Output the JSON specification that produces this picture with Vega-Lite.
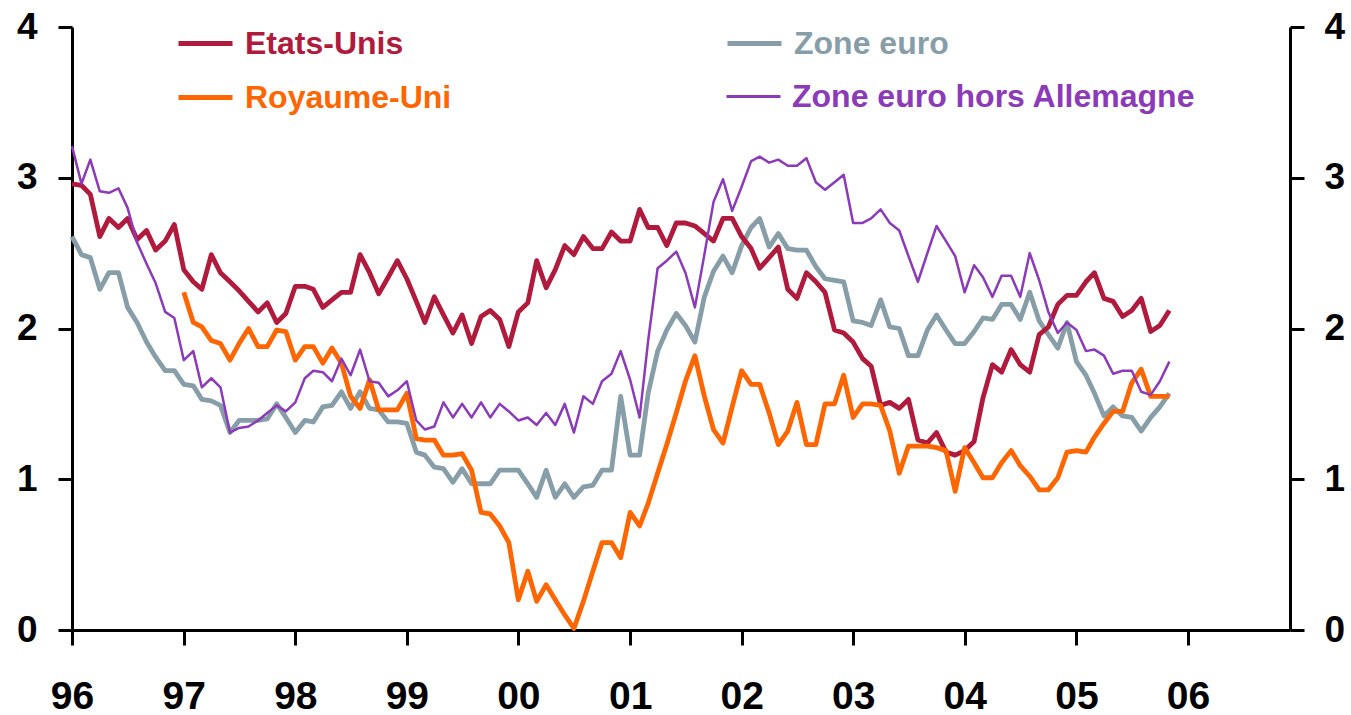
{
  "$schema": "https://vega.github.io/schema/vega-lite/v6.json",
  "width": 1218,
  "height": 603,
  "autosize": "none",
  "padding": {"left": 72, "top": 27, "right": 61, "bottom": 85},
  "background": "white",
  "config": {
    "view": {"stroke": null},
    "font": "Liberation Sans",
    "axis": {"grid": false, "title": null, "domainColor": "black", "tickColor": "black", "labelColor": "black", "labelFont": "Liberation Sans", "labelFontWeight": "bold"},
    "legend": {"padding": 0, "title": null, "orient": "none", "symbolType": "stroke", "symbolSize": 2916, "labelFont": "Liberation Sans", "labelFontWeight": "bold", "labelFontSize": 32, "labelOffset": 10, "labelLimit": 800}
  },
  "data": {"values": [
    {"d":"1996-01","s":"Etats-Unis","v":2.96},{"d":"1996-02","s":"Etats-Unis","v":2.95},{"d":"1996-03","s":"Etats-Unis","v":2.89},{"d":"1996-04","s":"Etats-Unis","v":2.61},{"d":"1996-05","s":"Etats-Unis","v":2.73},{"d":"1996-06","s":"Etats-Unis","v":2.67},{"d":"1996-07","s":"Etats-Unis","v":2.73},{"d":"1996-08","s":"Etats-Unis","v":2.59},{"d":"1996-09","s":"Etats-Unis","v":2.65},{"d":"1996-10","s":"Etats-Unis","v":2.52},{"d":"1996-11","s":"Etats-Unis","v":2.58},{"d":"1996-12","s":"Etats-Unis","v":2.69},
    {"d":"1997-01","s":"Etats-Unis","v":2.39},{"d":"1997-02","s":"Etats-Unis","v":2.31},{"d":"1997-03","s":"Etats-Unis","v":2.26},{"d":"1997-04","s":"Etats-Unis","v":2.49},{"d":"1997-05","s":"Etats-Unis","v":2.37},{"d":"1997-06","s":"Etats-Unis","v":2.31},{"d":"1997-07","s":"Etats-Unis","v":2.25},{"d":"1997-08","s":"Etats-Unis","v":2.18},{"d":"1997-09","s":"Etats-Unis","v":2.11},{"d":"1997-10","s":"Etats-Unis","v":2.17},{"d":"1997-11","s":"Etats-Unis","v":2.04},{"d":"1997-12","s":"Etats-Unis","v":2.10},
    {"d":"1998-01","s":"Etats-Unis","v":2.28},{"d":"1998-02","s":"Etats-Unis","v":2.28},{"d":"1998-03","s":"Etats-Unis","v":2.26},{"d":"1998-04","s":"Etats-Unis","v":2.14},{"d":"1998-05","s":"Etats-Unis","v":2.19},{"d":"1998-06","s":"Etats-Unis","v":2.24},{"d":"1998-07","s":"Etats-Unis","v":2.24},{"d":"1998-08","s":"Etats-Unis","v":2.49},{"d":"1998-09","s":"Etats-Unis","v":2.37},{"d":"1998-10","s":"Etats-Unis","v":2.23},{"d":"1998-11","s":"Etats-Unis","v":2.34},{"d":"1998-12","s":"Etats-Unis","v":2.45},
    {"d":"1999-01","s":"Etats-Unis","v":2.33},{"d":"1999-02","s":"Etats-Unis","v":2.18},{"d":"1999-03","s":"Etats-Unis","v":2.04},{"d":"1999-04","s":"Etats-Unis","v":2.21},{"d":"1999-05","s":"Etats-Unis","v":2.09},{"d":"1999-06","s":"Etats-Unis","v":1.97},{"d":"1999-07","s":"Etats-Unis","v":2.09},{"d":"1999-08","s":"Etats-Unis","v":1.90},{"d":"1999-09","s":"Etats-Unis","v":2.08},{"d":"1999-10","s":"Etats-Unis","v":2.12},{"d":"1999-11","s":"Etats-Unis","v":2.06},{"d":"1999-12","s":"Etats-Unis","v":1.88},
    {"d":"2000-01","s":"Etats-Unis","v":2.11},{"d":"2000-02","s":"Etats-Unis","v":2.17},{"d":"2000-03","s":"Etats-Unis","v":2.45},{"d":"2000-04","s":"Etats-Unis","v":2.27},{"d":"2000-05","s":"Etats-Unis","v":2.39},{"d":"2000-06","s":"Etats-Unis","v":2.55},{"d":"2000-07","s":"Etats-Unis","v":2.49},{"d":"2000-08","s":"Etats-Unis","v":2.61},{"d":"2000-09","s":"Etats-Unis","v":2.53},{"d":"2000-10","s":"Etats-Unis","v":2.53},{"d":"2000-11","s":"Etats-Unis","v":2.64},{"d":"2000-12","s":"Etats-Unis","v":2.58},
    {"d":"2001-01","s":"Etats-Unis","v":2.58},{"d":"2001-02","s":"Etats-Unis","v":2.79},{"d":"2001-03","s":"Etats-Unis","v":2.67},{"d":"2001-04","s":"Etats-Unis","v":2.67},{"d":"2001-05","s":"Etats-Unis","v":2.55},{"d":"2001-06","s":"Etats-Unis","v":2.70},{"d":"2001-07","s":"Etats-Unis","v":2.70},{"d":"2001-08","s":"Etats-Unis","v":2.68},{"d":"2001-09","s":"Etats-Unis","v":2.63},{"d":"2001-10","s":"Etats-Unis","v":2.58},{"d":"2001-11","s":"Etats-Unis","v":2.73},{"d":"2001-12","s":"Etats-Unis","v":2.73},
    {"d":"2002-01","s":"Etats-Unis","v":2.61},{"d":"2002-02","s":"Etats-Unis","v":2.53},{"d":"2002-03","s":"Etats-Unis","v":2.40},{"d":"2002-04","s":"Etats-Unis","v":2.47},{"d":"2002-05","s":"Etats-Unis","v":2.54},{"d":"2002-06","s":"Etats-Unis","v":2.26},{"d":"2002-07","s":"Etats-Unis","v":2.20},{"d":"2002-08","s":"Etats-Unis","v":2.37},{"d":"2002-09","s":"Etats-Unis","v":2.31},{"d":"2002-10","s":"Etats-Unis","v":2.24},{"d":"2002-11","s":"Etats-Unis","v":1.99},{"d":"2002-12","s":"Etats-Unis","v":1.97},
    {"d":"2003-01","s":"Etats-Unis","v":1.91},{"d":"2003-02","s":"Etats-Unis","v":1.80},{"d":"2003-03","s":"Etats-Unis","v":1.75},{"d":"2003-04","s":"Etats-Unis","v":1.49},{"d":"2003-05","s":"Etats-Unis","v":1.51},{"d":"2003-06","s":"Etats-Unis","v":1.47},{"d":"2003-07","s":"Etats-Unis","v":1.53},{"d":"2003-08","s":"Etats-Unis","v":1.26},{"d":"2003-09","s":"Etats-Unis","v":1.24},{"d":"2003-10","s":"Etats-Unis","v":1.31},{"d":"2003-11","s":"Etats-Unis","v":1.18},{"d":"2003-12","s":"Etats-Unis","v":1.16},
    {"d":"2004-01","s":"Etats-Unis","v":1.19},{"d":"2004-02","s":"Etats-Unis","v":1.25},{"d":"2004-03","s":"Etats-Unis","v":1.54},{"d":"2004-04","s":"Etats-Unis","v":1.76},{"d":"2004-05","s":"Etats-Unis","v":1.71},{"d":"2004-06","s":"Etats-Unis","v":1.86},{"d":"2004-07","s":"Etats-Unis","v":1.76},{"d":"2004-08","s":"Etats-Unis","v":1.71},{"d":"2004-09","s":"Etats-Unis","v":1.96},{"d":"2004-10","s":"Etats-Unis","v":2.01},{"d":"2004-11","s":"Etats-Unis","v":2.16},{"d":"2004-12","s":"Etats-Unis","v":2.22},
    {"d":"2005-01","s":"Etats-Unis","v":2.22},{"d":"2005-02","s":"Etats-Unis","v":2.31},{"d":"2005-03","s":"Etats-Unis","v":2.37},{"d":"2005-04","s":"Etats-Unis","v":2.20},{"d":"2005-05","s":"Etats-Unis","v":2.18},{"d":"2005-06","s":"Etats-Unis","v":2.08},{"d":"2005-07","s":"Etats-Unis","v":2.12},{"d":"2005-08","s":"Etats-Unis","v":2.20},{"d":"2005-09","s":"Etats-Unis","v":1.98},{"d":"2005-10","s":"Etats-Unis","v":2.02},{"d":"2005-11","s":"Etats-Unis","v":2.12},

    {"d":"1996-01","s":"Zone euro","v":2.61},{"d":"1996-02","s":"Zone euro","v":2.49},{"d":"1996-03","s":"Zone euro","v":2.47},{"d":"1996-04","s":"Zone euro","v":2.26},{"d":"1996-05","s":"Zone euro","v":2.37},{"d":"1996-06","s":"Zone euro","v":2.37},{"d":"1996-07","s":"Zone euro","v":2.14},{"d":"1996-08","s":"Zone euro","v":2.04},{"d":"1996-09","s":"Zone euro","v":1.91},{"d":"1996-10","s":"Zone euro","v":1.81},{"d":"1996-11","s":"Zone euro","v":1.72},{"d":"1996-12","s":"Zone euro","v":1.72},
    {"d":"1997-01","s":"Zone euro","v":1.63},{"d":"1997-02","s":"Zone euro","v":1.62},{"d":"1997-03","s":"Zone euro","v":1.53},{"d":"1997-04","s":"Zone euro","v":1.52},{"d":"1997-05","s":"Zone euro","v":1.49},{"d":"1997-06","s":"Zone euro","v":1.31},{"d":"1997-07","s":"Zone euro","v":1.39},{"d":"1997-08","s":"Zone euro","v":1.39},{"d":"1997-09","s":"Zone euro","v":1.39},{"d":"1997-10","s":"Zone euro","v":1.40},{"d":"1997-11","s":"Zone euro","v":1.50},{"d":"1997-12","s":"Zone euro","v":1.41},
    {"d":"1998-01","s":"Zone euro","v":1.31},{"d":"1998-02","s":"Zone euro","v":1.39},{"d":"1998-03","s":"Zone euro","v":1.38},{"d":"1998-04","s":"Zone euro","v":1.48},{"d":"1998-05","s":"Zone euro","v":1.49},{"d":"1998-06","s":"Zone euro","v":1.58},{"d":"1998-07","s":"Zone euro","v":1.47},{"d":"1998-08","s":"Zone euro","v":1.58},{"d":"1998-09","s":"Zone euro","v":1.47},{"d":"1998-10","s":"Zone euro","v":1.46},{"d":"1998-11","s":"Zone euro","v":1.38},{"d":"1998-12","s":"Zone euro","v":1.38},
    {"d":"1999-01","s":"Zone euro","v":1.37},{"d":"1999-02","s":"Zone euro","v":1.18},{"d":"1999-03","s":"Zone euro","v":1.16},{"d":"1999-04","s":"Zone euro","v":1.08},{"d":"1999-05","s":"Zone euro","v":1.07},{"d":"1999-06","s":"Zone euro","v":0.98},{"d":"1999-07","s":"Zone euro","v":1.07},{"d":"1999-08","s":"Zone euro","v":0.97},{"d":"1999-09","s":"Zone euro","v":0.97},{"d":"1999-10","s":"Zone euro","v":0.97},{"d":"1999-11","s":"Zone euro","v":1.06},{"d":"1999-12","s":"Zone euro","v":1.06},
    {"d":"2000-01","s":"Zone euro","v":1.06},{"d":"2000-02","s":"Zone euro","v":0.97},{"d":"2000-03","s":"Zone euro","v":0.88},{"d":"2000-04","s":"Zone euro","v":1.06},{"d":"2000-05","s":"Zone euro","v":0.88},{"d":"2000-06","s":"Zone euro","v":0.97},{"d":"2000-07","s":"Zone euro","v":0.88},{"d":"2000-08","s":"Zone euro","v":0.95},{"d":"2000-09","s":"Zone euro","v":0.96},{"d":"2000-10","s":"Zone euro","v":1.06},{"d":"2000-11","s":"Zone euro","v":1.06},{"d":"2000-12","s":"Zone euro","v":1.55},
    {"d":"2001-01","s":"Zone euro","v":1.16},{"d":"2001-02","s":"Zone euro","v":1.16},{"d":"2001-03","s":"Zone euro","v":1.57},{"d":"2001-04","s":"Zone euro","v":1.85},{"d":"2001-05","s":"Zone euro","v":1.99},{"d":"2001-06","s":"Zone euro","v":2.10},{"d":"2001-07","s":"Zone euro","v":2.02},{"d":"2001-08","s":"Zone euro","v":1.91},{"d":"2001-09","s":"Zone euro","v":2.21},{"d":"2001-10","s":"Zone euro","v":2.38},{"d":"2001-11","s":"Zone euro","v":2.48},{"d":"2001-12","s":"Zone euro","v":2.37},
    {"d":"2002-01","s":"Zone euro","v":2.55},{"d":"2002-02","s":"Zone euro","v":2.67},{"d":"2002-03","s":"Zone euro","v":2.73},{"d":"2002-04","s":"Zone euro","v":2.54},{"d":"2002-05","s":"Zone euro","v":2.63},{"d":"2002-06","s":"Zone euro","v":2.53},{"d":"2002-07","s":"Zone euro","v":2.52},{"d":"2002-08","s":"Zone euro","v":2.52},{"d":"2002-09","s":"Zone euro","v":2.41},{"d":"2002-10","s":"Zone euro","v":2.33},{"d":"2002-11","s":"Zone euro","v":2.32},{"d":"2002-12","s":"Zone euro","v":2.31},
    {"d":"2003-01","s":"Zone euro","v":2.05},{"d":"2003-02","s":"Zone euro","v":2.04},{"d":"2003-03","s":"Zone euro","v":2.02},{"d":"2003-04","s":"Zone euro","v":2.19},{"d":"2003-05","s":"Zone euro","v":2.01},{"d":"2003-06","s":"Zone euro","v":2.00},{"d":"2003-07","s":"Zone euro","v":1.82},{"d":"2003-08","s":"Zone euro","v":1.82},{"d":"2003-09","s":"Zone euro","v":1.99},{"d":"2003-10","s":"Zone euro","v":2.09},{"d":"2003-11","s":"Zone euro","v":1.99},{"d":"2003-12","s":"Zone euro","v":1.90},
    {"d":"2004-01","s":"Zone euro","v":1.90},{"d":"2004-02","s":"Zone euro","v":1.98},{"d":"2004-03","s":"Zone euro","v":2.07},{"d":"2004-04","s":"Zone euro","v":2.06},{"d":"2004-05","s":"Zone euro","v":2.16},{"d":"2004-06","s":"Zone euro","v":2.16},{"d":"2004-07","s":"Zone euro","v":2.06},{"d":"2004-08","s":"Zone euro","v":2.24},{"d":"2004-09","s":"Zone euro","v":2.05},{"d":"2004-10","s":"Zone euro","v":1.96},{"d":"2004-11","s":"Zone euro","v":1.87},{"d":"2004-12","s":"Zone euro","v":2.04},
    {"d":"2005-01","s":"Zone euro","v":1.78},{"d":"2005-02","s":"Zone euro","v":1.69},{"d":"2005-03","s":"Zone euro","v":1.57},{"d":"2005-04","s":"Zone euro","v":1.42},{"d":"2005-05","s":"Zone euro","v":1.48},{"d":"2005-06","s":"Zone euro","v":1.42},{"d":"2005-07","s":"Zone euro","v":1.41},{"d":"2005-08","s":"Zone euro","v":1.32},{"d":"2005-09","s":"Zone euro","v":1.41},{"d":"2005-10","s":"Zone euro","v":1.48},{"d":"2005-11","s":"Zone euro","v":1.57},

    {"d":"1997-01","s":"Royaume-Uni","v":2.24},{"d":"1997-02","s":"Royaume-Uni","v":2.04},{"d":"1997-03","s":"Royaume-Uni","v":2.01},{"d":"1997-04","s":"Royaume-Uni","v":1.92},{"d":"1997-05","s":"Royaume-Uni","v":1.90},{"d":"1997-06","s":"Royaume-Uni","v":1.79},{"d":"1997-07","s":"Royaume-Uni","v":1.90},{"d":"1997-08","s":"Royaume-Uni","v":2.00},{"d":"1997-09","s":"Royaume-Uni","v":1.88},{"d":"1997-10","s":"Royaume-Uni","v":1.88},{"d":"1997-11","s":"Royaume-Uni","v":1.99},{"d":"1997-12","s":"Royaume-Uni","v":1.98},
    {"d":"1998-01","s":"Royaume-Uni","v":1.79},{"d":"1998-02","s":"Royaume-Uni","v":1.88},{"d":"1998-03","s":"Royaume-Uni","v":1.88},{"d":"1998-04","s":"Royaume-Uni","v":1.77},{"d":"1998-05","s":"Royaume-Uni","v":1.87},{"d":"1998-06","s":"Royaume-Uni","v":1.77},{"d":"1998-07","s":"Royaume-Uni","v":1.55},{"d":"1998-08","s":"Royaume-Uni","v":1.47},{"d":"1998-09","s":"Royaume-Uni","v":1.66},{"d":"1998-10","s":"Royaume-Uni","v":1.46},{"d":"1998-11","s":"Royaume-Uni","v":1.46},{"d":"1998-12","s":"Royaume-Uni","v":1.46},
    {"d":"1999-01","s":"Royaume-Uni","v":1.57},{"d":"1999-02","s":"Royaume-Uni","v":1.27},{"d":"1999-03","s":"Royaume-Uni","v":1.26},{"d":"1999-04","s":"Royaume-Uni","v":1.26},{"d":"1999-05","s":"Royaume-Uni","v":1.16},{"d":"1999-06","s":"Royaume-Uni","v":1.16},{"d":"1999-07","s":"Royaume-Uni","v":1.17},{"d":"1999-08","s":"Royaume-Uni","v":1.06},{"d":"1999-09","s":"Royaume-Uni","v":0.78},{"d":"1999-10","s":"Royaume-Uni","v":0.77},{"d":"1999-11","s":"Royaume-Uni","v":0.69},{"d":"1999-12","s":"Royaume-Uni","v":0.58},
    {"d":"2000-01","s":"Royaume-Uni","v":0.20},{"d":"2000-02","s":"Royaume-Uni","v":0.39},{"d":"2000-03","s":"Royaume-Uni","v":0.19},{"d":"2000-04","s":"Royaume-Uni","v":0.30},{"d":"2000-05","s":"Royaume-Uni","v":0.20},{"d":"2000-06","s":"Royaume-Uni","v":0.10},{"d":"2000-07","s":"Royaume-Uni","v":0.01},{"d":"2000-08","s":"Royaume-Uni","v":0.19},{"d":"2000-09","s":"Royaume-Uni","v":0.39},{"d":"2000-10","s":"Royaume-Uni","v":0.58},{"d":"2000-11","s":"Royaume-Uni","v":0.58},{"d":"2000-12","s":"Royaume-Uni","v":0.48},
    {"d":"2001-01","s":"Royaume-Uni","v":0.78},{"d":"2001-02","s":"Royaume-Uni","v":0.69},{"d":"2001-03","s":"Royaume-Uni","v":0.84},{"d":"2001-04","s":"Royaume-Uni","v":1.04},{"d":"2001-05","s":"Royaume-Uni","v":1.23},{"d":"2001-06","s":"Royaume-Uni","v":1.44},{"d":"2001-07","s":"Royaume-Uni","v":1.65},{"d":"2001-08","s":"Royaume-Uni","v":1.82},{"d":"2001-09","s":"Royaume-Uni","v":1.55},{"d":"2001-10","s":"Royaume-Uni","v":1.33},{"d":"2001-11","s":"Royaume-Uni","v":1.24},{"d":"2001-12","s":"Royaume-Uni","v":1.48},
    {"d":"2002-01","s":"Royaume-Uni","v":1.72},{"d":"2002-02","s":"Royaume-Uni","v":1.63},{"d":"2002-03","s":"Royaume-Uni","v":1.63},{"d":"2002-04","s":"Royaume-Uni","v":1.44},{"d":"2002-05","s":"Royaume-Uni","v":1.23},{"d":"2002-06","s":"Royaume-Uni","v":1.32},{"d":"2002-07","s":"Royaume-Uni","v":1.51},{"d":"2002-08","s":"Royaume-Uni","v":1.23},{"d":"2002-09","s":"Royaume-Uni","v":1.23},{"d":"2002-10","s":"Royaume-Uni","v":1.50},{"d":"2002-11","s":"Royaume-Uni","v":1.50},{"d":"2002-12","s":"Royaume-Uni","v":1.69},
    {"d":"2003-01","s":"Royaume-Uni","v":1.41},{"d":"2003-02","s":"Royaume-Uni","v":1.50},{"d":"2003-03","s":"Royaume-Uni","v":1.50},{"d":"2003-04","s":"Royaume-Uni","v":1.49},{"d":"2003-05","s":"Royaume-Uni","v":1.32},{"d":"2003-06","s":"Royaume-Uni","v":1.04},{"d":"2003-07","s":"Royaume-Uni","v":1.22},{"d":"2003-08","s":"Royaume-Uni","v":1.22},{"d":"2003-09","s":"Royaume-Uni","v":1.22},{"d":"2003-10","s":"Royaume-Uni","v":1.21},{"d":"2003-11","s":"Royaume-Uni","v":1.19},{"d":"2003-12","s":"Royaume-Uni","v":0.92},
    {"d":"2004-01","s":"Royaume-Uni","v":1.21},{"d":"2004-02","s":"Royaume-Uni","v":1.11},{"d":"2004-03","s":"Royaume-Uni","v":1.01},{"d":"2004-04","s":"Royaume-Uni","v":1.01},{"d":"2004-05","s":"Royaume-Uni","v":1.11},{"d":"2004-06","s":"Royaume-Uni","v":1.19},{"d":"2004-07","s":"Royaume-Uni","v":1.09},{"d":"2004-08","s":"Royaume-Uni","v":1.02},{"d":"2004-09","s":"Royaume-Uni","v":0.93},{"d":"2004-10","s":"Royaume-Uni","v":0.93},{"d":"2004-11","s":"Royaume-Uni","v":1.01},{"d":"2004-12","s":"Royaume-Uni","v":1.18},
    {"d":"2005-01","s":"Royaume-Uni","v":1.19},{"d":"2005-02","s":"Royaume-Uni","v":1.18},{"d":"2005-03","s":"Royaume-Uni","v":1.28},{"d":"2005-04","s":"Royaume-Uni","v":1.37},{"d":"2005-05","s":"Royaume-Uni","v":1.45},{"d":"2005-06","s":"Royaume-Uni","v":1.45},{"d":"2005-07","s":"Royaume-Uni","v":1.64},{"d":"2005-08","s":"Royaume-Uni","v":1.73},{"d":"2005-09","s":"Royaume-Uni","v":1.55},{"d":"2005-10","s":"Royaume-Uni","v":1.55},{"d":"2005-11","s":"Royaume-Uni","v":1.55},

    {"d":"1996-01","s":"Zone euro hors Allemagne","v":3.21},{"d":"1996-02","s":"Zone euro hors Allemagne","v":2.96},{"d":"1996-03","s":"Zone euro hors Allemagne","v":3.12},{"d":"1996-04","s":"Zone euro hors Allemagne","v":2.91},{"d":"1996-05","s":"Zone euro hors Allemagne","v":2.90},{"d":"1996-06","s":"Zone euro hors Allemagne","v":2.93},{"d":"1996-07","s":"Zone euro hors Allemagne","v":2.80},{"d":"1996-08","s":"Zone euro hors Allemagne","v":2.57},{"d":"1996-09","s":"Zone euro hors Allemagne","v":2.43},{"d":"1996-10","s":"Zone euro hors Allemagne","v":2.30},{"d":"1996-11","s":"Zone euro hors Allemagne","v":2.11},{"d":"1996-12","s":"Zone euro hors Allemagne","v":2.07},
    {"d":"1997-01","s":"Zone euro hors Allemagne","v":1.79},{"d":"1997-02","s":"Zone euro hors Allemagne","v":1.85},{"d":"1997-03","s":"Zone euro hors Allemagne","v":1.61},{"d":"1997-04","s":"Zone euro hors Allemagne","v":1.67},{"d":"1997-05","s":"Zone euro hors Allemagne","v":1.61},{"d":"1997-06","s":"Zone euro hors Allemagne","v":1.31},{"d":"1997-07","s":"Zone euro hors Allemagne","v":1.34},{"d":"1997-08","s":"Zone euro hors Allemagne","v":1.35},{"d":"1997-09","s":"Zone euro hors Allemagne","v":1.39},{"d":"1997-10","s":"Zone euro hors Allemagne","v":1.44},{"d":"1997-11","s":"Zone euro hors Allemagne","v":1.49},{"d":"1997-12","s":"Zone euro hors Allemagne","v":1.45},
    {"d":"1998-01","s":"Zone euro hors Allemagne","v":1.51},{"d":"1998-02","s":"Zone euro hors Allemagne","v":1.67},{"d":"1998-03","s":"Zone euro hors Allemagne","v":1.72},{"d":"1998-04","s":"Zone euro hors Allemagne","v":1.71},{"d":"1998-05","s":"Zone euro hors Allemagne","v":1.65},{"d":"1998-06","s":"Zone euro hors Allemagne","v":1.80},{"d":"1998-07","s":"Zone euro hors Allemagne","v":1.69},{"d":"1998-08","s":"Zone euro hors Allemagne","v":1.86},{"d":"1998-09","s":"Zone euro hors Allemagne","v":1.65},{"d":"1998-10","s":"Zone euro hors Allemagne","v":1.64},{"d":"1998-11","s":"Zone euro hors Allemagne","v":1.55},{"d":"1998-12","s":"Zone euro hors Allemagne","v":1.59},
    {"d":"1999-01","s":"Zone euro hors Allemagne","v":1.65},{"d":"1999-02","s":"Zone euro hors Allemagne","v":1.39},{"d":"1999-03","s":"Zone euro hors Allemagne","v":1.33},{"d":"1999-04","s":"Zone euro hors Allemagne","v":1.35},{"d":"1999-05","s":"Zone euro hors Allemagne","v":1.51},{"d":"1999-06","s":"Zone euro hors Allemagne","v":1.41},{"d":"1999-07","s":"Zone euro hors Allemagne","v":1.50},{"d":"1999-08","s":"Zone euro hors Allemagne","v":1.41},{"d":"1999-09","s":"Zone euro hors Allemagne","v":1.51},{"d":"1999-10","s":"Zone euro hors Allemagne","v":1.41},{"d":"1999-11","s":"Zone euro hors Allemagne","v":1.50},{"d":"1999-12","s":"Zone euro hors Allemagne","v":1.45},
    {"d":"2000-01","s":"Zone euro hors Allemagne","v":1.39},{"d":"2000-02","s":"Zone euro hors Allemagne","v":1.41},{"d":"2000-03","s":"Zone euro hors Allemagne","v":1.36},{"d":"2000-04","s":"Zone euro hors Allemagne","v":1.44},{"d":"2000-05","s":"Zone euro hors Allemagne","v":1.36},{"d":"2000-06","s":"Zone euro hors Allemagne","v":1.50},{"d":"2000-07","s":"Zone euro hors Allemagne","v":1.31},{"d":"2000-08","s":"Zone euro hors Allemagne","v":1.55},{"d":"2000-09","s":"Zone euro hors Allemagne","v":1.50},{"d":"2000-10","s":"Zone euro hors Allemagne","v":1.65},{"d":"2000-11","s":"Zone euro hors Allemagne","v":1.70},{"d":"2000-12","s":"Zone euro hors Allemagne","v":1.85},
    {"d":"2001-01","s":"Zone euro hors Allemagne","v":1.66},{"d":"2001-02","s":"Zone euro hors Allemagne","v":1.41},{"d":"2001-03","s":"Zone euro hors Allemagne","v":1.92},{"d":"2001-04","s":"Zone euro hors Allemagne","v":2.40},{"d":"2001-05","s":"Zone euro hors Allemagne","v":2.45},{"d":"2001-06","s":"Zone euro hors Allemagne","v":2.51},{"d":"2001-07","s":"Zone euro hors Allemagne","v":2.37},{"d":"2001-08","s":"Zone euro hors Allemagne","v":2.14},{"d":"2001-09","s":"Zone euro hors Allemagne","v":2.49},{"d":"2001-10","s":"Zone euro hors Allemagne","v":2.84},{"d":"2001-11","s":"Zone euro hors Allemagne","v":2.99},{"d":"2001-12","s":"Zone euro hors Allemagne","v":2.78},
    {"d":"2002-01","s":"Zone euro hors Allemagne","v":2.94},{"d":"2002-02","s":"Zone euro hors Allemagne","v":3.11},{"d":"2002-03","s":"Zone euro hors Allemagne","v":3.14},{"d":"2002-04","s":"Zone euro hors Allemagne","v":3.10},{"d":"2002-05","s":"Zone euro hors Allemagne","v":3.12},{"d":"2002-06","s":"Zone euro hors Allemagne","v":3.08},{"d":"2002-07","s":"Zone euro hors Allemagne","v":3.08},{"d":"2002-08","s":"Zone euro hors Allemagne","v":3.13},{"d":"2002-09","s":"Zone euro hors Allemagne","v":2.97},{"d":"2002-10","s":"Zone euro hors Allemagne","v":2.92},{"d":"2002-11","s":"Zone euro hors Allemagne","v":2.97},{"d":"2002-12","s":"Zone euro hors Allemagne","v":3.02},
    {"d":"2003-01","s":"Zone euro hors Allemagne","v":2.70},{"d":"2003-02","s":"Zone euro hors Allemagne","v":2.70},{"d":"2003-03","s":"Zone euro hors Allemagne","v":2.73},{"d":"2003-04","s":"Zone euro hors Allemagne","v":2.79},{"d":"2003-05","s":"Zone euro hors Allemagne","v":2.70},{"d":"2003-06","s":"Zone euro hors Allemagne","v":2.65},{"d":"2003-07","s":"Zone euro hors Allemagne","v":2.48},{"d":"2003-08","s":"Zone euro hors Allemagne","v":2.31},{"d":"2003-09","s":"Zone euro hors Allemagne","v":2.50},{"d":"2003-10","s":"Zone euro hors Allemagne","v":2.68},{"d":"2003-11","s":"Zone euro hors Allemagne","v":2.58},{"d":"2003-12","s":"Zone euro hors Allemagne","v":2.48},
    {"d":"2004-01","s":"Zone euro hors Allemagne","v":2.24},{"d":"2004-02","s":"Zone euro hors Allemagne","v":2.42},{"d":"2004-03","s":"Zone euro hors Allemagne","v":2.34},{"d":"2004-04","s":"Zone euro hors Allemagne","v":2.21},{"d":"2004-05","s":"Zone euro hors Allemagne","v":2.35},{"d":"2004-06","s":"Zone euro hors Allemagne","v":2.35},{"d":"2004-07","s":"Zone euro hors Allemagne","v":2.21},{"d":"2004-08","s":"Zone euro hors Allemagne","v":2.50},{"d":"2004-09","s":"Zone euro hors Allemagne","v":2.32},{"d":"2004-10","s":"Zone euro hors Allemagne","v":2.11},{"d":"2004-11","s":"Zone euro hors Allemagne","v":1.97},{"d":"2004-12","s":"Zone euro hors Allemagne","v":2.04},
    {"d":"2005-01","s":"Zone euro hors Allemagne","v":1.99},{"d":"2005-02","s":"Zone euro hors Allemagne","v":1.85},{"d":"2005-03","s":"Zone euro hors Allemagne","v":1.86},{"d":"2005-04","s":"Zone euro hors Allemagne","v":1.82},{"d":"2005-05","s":"Zone euro hors Allemagne","v":1.70},{"d":"2005-06","s":"Zone euro hors Allemagne","v":1.72},{"d":"2005-07","s":"Zone euro hors Allemagne","v":1.72},{"d":"2005-08","s":"Zone euro hors Allemagne","v":1.58},{"d":"2005-09","s":"Zone euro hors Allemagne","v":1.56},{"d":"2005-10","s":"Zone euro hors Allemagne","v":1.65},{"d":"2005-11","s":"Zone euro hors Allemagne","v":1.78}
  ]},
  "encoding": {
    "x": {
      "field": "d", "type": "temporal",
      "scale": {"type": "utc", "domain": [{"year": 1996, "month": 1, "date": 1, "utc": true}, {"year": 2006, "month": 12, "date": 1, "utc": true}]},
      "axis": {
        "values": [{"year":1996,"month":1,"date":1,"utc":true},{"year":1997,"month":1,"date":1,"utc":true},{"year":1998,"month":1,"date":1,"utc":true},{"year":1999,"month":1,"date":1,"utc":true},{"year":2000,"month":1,"date":1,"utc":true},{"year":2001,"month":1,"date":1,"utc":true},{"year":2002,"month":1,"date":1,"utc":true},{"year":2003,"month":1,"date":1,"utc":true},{"year":2004,"month":1,"date":1,"utc":true},{"year":2005,"month":1,"date":1,"utc":true},{"year":2006,"month":1,"date":1,"utc":true}],
        "format": "%y", "domainWidth": 3, "tickWidth": 3, "tickSize": 15, "labelFontSize": 39, "labelPadding": 32, "labelFlush": false, "labelOverlap": false
      }
    }
  },
  "layer": [
    {
      "transform": [{"filter": "datum.s === 'Zone euro'"}],
      "mark": {"type": "line", "strokeWidth": 4.8, "strokeJoin": "round"},
      "encoding": {
        "y": {"field": "v", "type": "quantitative", "scale": {"domain": [0, 4], "nice": false}, "axis": {"orient": "left", "values": [0,1,2,3,4], "domainWidth": 3, "tickWidth": 3, "tickSize": 14, "labelFontSize": 37, "labelPadding": 21}},
        "color": {"field": "s", "type": "nominal", "scale": {"range": ["#879EA9"]}, "legend": {"legendX": 653, "legendY": -13, "symbolStrokeWidth": 5, "labelColor": "#879EA9"}}
      }
    },
    {
      "transform": [{"filter": "datum.s === 'Etats-Unis'"}],
      "mark": {"type": "line", "strokeWidth": 4.8, "strokeJoin": "round"},
      "encoding": {
        "y": {"field": "v", "type": "quantitative", "axis": null},
        "color": {"field": "s", "type": "nominal", "scale": {"range": ["#B01A3C"]}, "legend": {"legendX": 104, "legendY": -13, "symbolStrokeWidth": 5, "labelColor": "#B01A3C"}}
      }
    },
    {
      "transform": [{"filter": "datum.s === 'Royaume-Uni'"}],
      "mark": {"type": "line", "strokeWidth": 4.8, "strokeJoin": "round"},
      "encoding": {
        "y": {"field": "v", "type": "quantitative", "axis": null},
        "color": {"field": "s", "type": "nominal", "scale": {"range": ["#FF6600"]}, "legend": {"legendX": 104, "legendY": 41, "symbolStrokeWidth": 5, "labelColor": "#FF6600"}}
      }
    },
    {
      "transform": [{"filter": "datum.s === 'Zone euro hors Allemagne'"}],
      "mark": {"type": "line", "strokeWidth": 2.5, "strokeJoin": "round"},
      "encoding": {
        "y": {"field": "v", "type": "quantitative", "axis": null},
        "color": {"field": "s", "type": "nominal", "scale": {"range": ["#8B3AB8"]}, "legend": {"legendX": 653, "legendY": 41, "symbolStrokeWidth": 3, "labelColor": "#8B3AB8"}}
      }
    },
    {
      "transform": [{"filter": "datum.s === 'Zone euro'"}],
      "mark": {"type": "line", "opacity": 0},
      "encoding": {
        "y": {"field": "v", "type": "quantitative", "axis": {"orient": "right", "values": [0,1,2,3,4], "domainWidth": 3, "tickWidth": 3, "tickSize": 14, "labelFontSize": 37, "labelPadding": 20}}
      }
    }
  ],
  "resolve": {"scale": {"color": "independent"}, "axis": {"y": "independent"}}
}
